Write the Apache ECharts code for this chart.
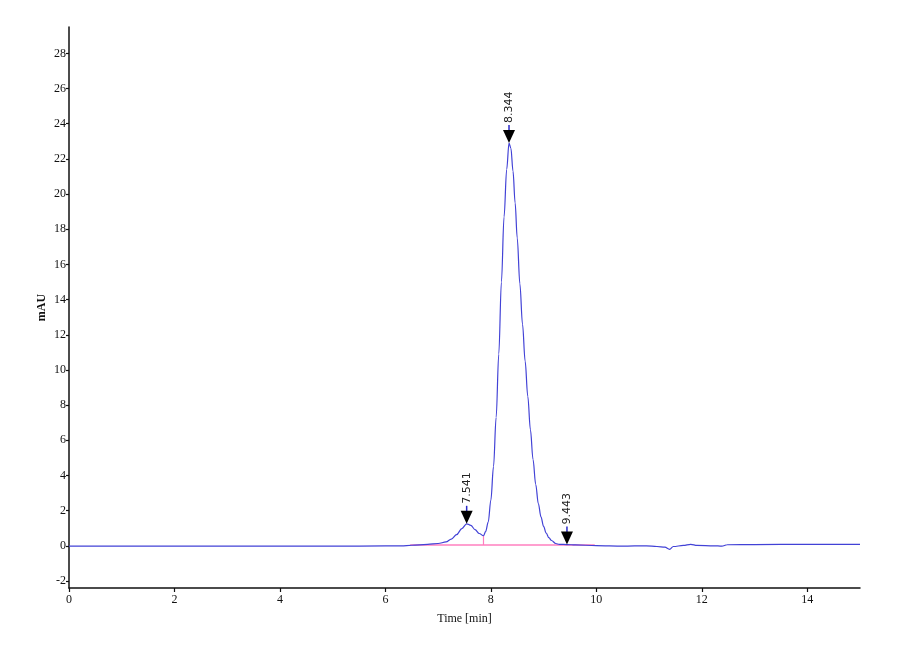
<!DOCTYPE html>
<html>
<head>
<meta charset="utf-8">
<script src="https://cdn.jsdelivr.net/npm/echarts@6/dist/echarts.min.js"></script>
<style>html,body{margin:0;padding:0;background:#fff;}#c{width:900px;height:660px;}</style>
</head>
<body>
<div id="c"></div>
<script>
// Chromatogram trace (time in min, signal in mAU)
const times = [0, 1, 2, 3, 4, 5, 6, 6.3, 6.5, 6.8, 7.0, 7.15, 7.25, 7.35, 7.45, 7.541, 7.62, 7.70, 7.78, 7.86,
  7.90, 7.95, 8.00, 8.05, 8.10, 8.15, 8.20, 8.25, 8.30, 8.344, 8.38, 8.42, 8.46, 8.50, 8.55, 8.60, 8.65, 8.70,
  8.75, 8.80, 8.85, 8.90, 8.95, 9.00, 9.05, 9.10, 9.15, 9.23, 9.30, 9.443, 9.6, 10.0, 10.5, 10.95, 11.15, 11.30,
  11.39, 11.46, 11.65, 11.79, 11.91, 12.23, 12.38, 12.48, 13.0, 14.0, 15.0];
const signal = [-0.02, -0.02, -0.02, -0.02, -0.02, -0.02, -0.01, 0.0, 0.03, 0.08, 0.13, 0.22, 0.38, 0.63, 0.98, 1.25, 1.16, 0.92, 0.70, 0.57,
  0.80, 1.35, 2.60, 4.50, 7.30, 10.9, 15.0, 18.7, 21.4, 22.9, 22.6, 21.3, 19.5, 17.5, 14.9, 12.6, 10.5, 8.5,
  6.6, 4.9, 3.5, 2.4, 1.65, 1.10, 0.72, 0.46, 0.30, 0.13, 0.08, 0.07, 0.05, 0.01, -0.02, 0.0, -0.04, -0.08,
  -0.20, -0.04, 0.02, 0.08, 0.02, 0.0, -0.02, 0.06, 0.07, 0.08, 0.08];

// Integration baseline (pink) and peak drop line
const baselineTimes = [6.47, 9.97];
const baselineValues = [0.04, 0.04];
const dropTimes = [7.86, 7.86];
const dropValues = [0.04, 0.57];

// Peak markers
const peakTimes = [7.541, 8.344, 9.443];
const peakHeights = [1.25, 22.9, 0.07];
const peakLabels = ['7.541', '8.344', '9.443'];

// Axis ticks
const xTicks = [0, 2, 4, 6, 8, 10, 12, 14];
const yTicks = [-2, 0, 2, 4, 6, 8, 10, 12, 14, 16, 18, 20, 22, 24, 26, 28];

const trace = times.map((t, i) => [t, signal[i]]);
const baseLine = baselineTimes.map((t, i) => [t, baselineValues[i]]);
const drop = dropTimes.map((t, i) => [t, dropValues[i]]);
const peaks = peakTimes.map((t, i) => [t, peakHeights[i], peakLabels[i]]);

const chart = echarts.init(document.getElementById('c'), null, {renderer: 'canvas'});
const serif = 'Liberation Serif';
chart.setOption({
  backgroundColor: '#ffffff',
  animation: false,
  grid: {left: 69, right: 40, top: 27, bottom: 72, containLabel: false},
  xAxis: {
    type: 'value', min: 0, max: 15,
    name: 'Time [min]', nameLocation: 'middle', nameGap: 25,
    nameTextStyle: {fontFamily: serif, fontSize: 12, color: '#111'},
    axisLine: {show: true, onZero: false, lineStyle: {color: '#111', width: 1.5}},
    axisTick: {show: true, length: 4, customValues: xTicks, lineStyle: {color: '#111', width: 1.2}},
    axisLabel: {customValues: xTicks, fontFamily: serif, fontSize: 12, color: '#111', margin: 6},
    splitLine: {show: false}
  },
  yAxis: {
    type: 'value', min: -2.4, max: 29.5,
    name: 'mAU', nameLocation: 'middle', nameGap: 21, nameRotate: 90, nameMoveOverlap: false,
    nameTextStyle: {fontFamily: serif, fontSize: 12, fontWeight: 'bold', color: '#111'},
    axisLine: {show: true, onZero: false, lineStyle: {color: '#111', width: 1.5}},
    axisTick: {show: true, length: 3, customValues: yTicks, lineStyle: {color: '#111', width: 1.2}},
    axisLabel: {customValues: yTicks, fontFamily: serif, fontSize: 12, color: '#111', margin: 3},
    splitLine: {show: false}
  },
  series: [
    {
      type: 'line', data: baseLine, symbol: 'none', silent: true,
      lineStyle: {color: '#ff7fbf', width: 1.5}, z: 2
    },
    {
      type: 'line', data: drop, symbol: 'none', silent: true,
      lineStyle: {color: '#ff7fbf', width: 1.2}, z: 2
    },
    {
      type: 'line', data: trace, symbol: 'none', smooth: 0.35, smoothMonotone: 'x',
      lineStyle: {color: '#4242d6', width: 1.2}, z: 3
    },
    {
      type: 'custom', data: peaks, z: 5,
      renderItem: function (params, api) {
        const p = api.coord([api.value(0), api.value(1)]);
        const x = p[0], y = p[1];
        const label = peakLabels[params.dataIndex];
        return {
          type: 'group',
          children: [
            {type: 'line', shape: {x1: x, y1: y - 12, x2: x, y2: y - 18}, style: {stroke: '#2a2ac8', lineWidth: 1.5}},
            {type: 'polygon', shape: {points: [[x, y], [x - 6, y - 13], [x + 6, y - 13]]}, style: {fill: '#000'}},
            {type: 'text', x: x, y: y - 20, rotation: Math.PI / 2,
             style: {text: label, fill: '#222', font: '11px "DejaVu Sans"', align: 'left', verticalAlign: 'middle'}}
          ]
        };
      }
    }
  ]
});
</script>
</body>
</html>
